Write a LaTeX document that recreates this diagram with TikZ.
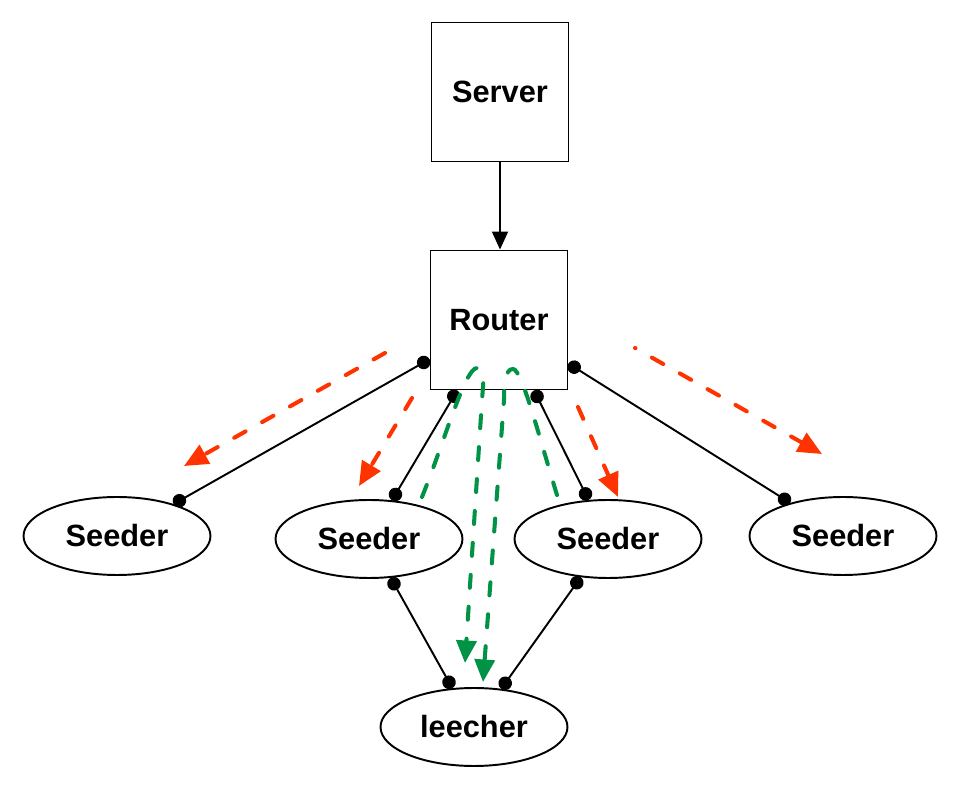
\documentclass[tikz,border=0pt]{standalone}
\usepackage{fontspec}
\setmainfont{Liberation Sans}
\usetikzlibrary{arrows.meta,shapes.geometric,positioning}
\definecolor{pushred}{RGB}{255,51,0}
\definecolor{pullgreen}{RGB}{0,146,69}

\begin{document}
\begin{tikzpicture}[x=0.02cm,y=-0.02cm,
every node/.style={font=\bfseries\fontsize{17.5}{21}\selectfont},
box/.style={draw, line width=1.1pt, minimum width=2.74cm, minimum height=2.78cm, inner sep=0pt},
peer/.style={ellipse, draw, line width=1.1pt, minimum width=3.74cm, minimum height=1.56cm, inner sep=0pt},
link/.style={line width=1.1pt, {Circle[length=0.27cm]}-{Circle[length=0.27cm]}},
push/.style={pushred, line width=2.3pt, line cap=round, dash pattern=on 0.26cm off 0.38cm,
  -{Triangle[length=0.48cm,width=0.42cm]}},
pull/.style={pullgreen, line width=2.3pt, line cap=round, dash pattern=on 0.26cm off 0.38cm,
  -{Triangle[length=0.45cm,width=0.4cm]}}]
\useasboundingbox (0,0) rectangle (958,790);

\node (srv) at (500,92) [box] {Server};
\node (rtr) at (499,320) [box] {Router};
\node (s_1) at (117,536) [peer] {Seeder};
\node (s_2) at (369,539) [peer] {Seeder};
\node (s_3) at (608,539) [peer] {Seeder};
\node (s_4) at (843,536) [peer] {Seeder};
\node (lee) at (474,727) [peer] {leecher};

\draw [line width=1.1pt, -{Triangle[length=0.36cm,width=0.32cm]}] (srv.south) -- (srv.south |- rtr.north);

% peer links
\draw [link] (rtr) -- (s_1);
\draw [link] (rtr) -- (s_2);
\draw [link] (rtr) -- (s_3);
\draw [link] (rtr) -- (s_4);
\draw [link] (s_2) -- (lee);
\draw [link] (s_3) -- (lee);

% pushed pieces
\coordinate (r_1) at (385,353); \coordinate (r'_1) at (184,466);
\coordinate (r_2) at (412,398); \coordinate (r'_2) at (359,486);
\coordinate (r_3) at (578,407); \coordinate (r'_3) at (618,497);
\coordinate (r_4) at (635,348); \coordinate (r'_4) at (822,454);
\draw [push] (r_1) -- (r'_1);
\draw [push] (r_2) -- (r'_2);
\draw [push] (r_3) -- (r'_3);
\draw [push, dash phase=0.25cm] (r_4) -- (r'_4);

% pulled pieces
\coordinate (g_1) at (422,497); \coordinate (g'_1) at (465,663);
\coordinate (g_2) at (557,495); \coordinate (g'_2) at (483,682);
\draw [pull] (g_1) .. controls (445,440) and (465,368) .. (477,368)
  .. controls (486,368) and (483,385) .. (482,400) -- (g'_1);
\draw [pull] (g_2) .. controls (540,440) and (522,369) .. (513,369)
  .. controls (505,369) and (504,385) .. (504,400) -- (g'_2);
\end{tikzpicture}
\end{document}
